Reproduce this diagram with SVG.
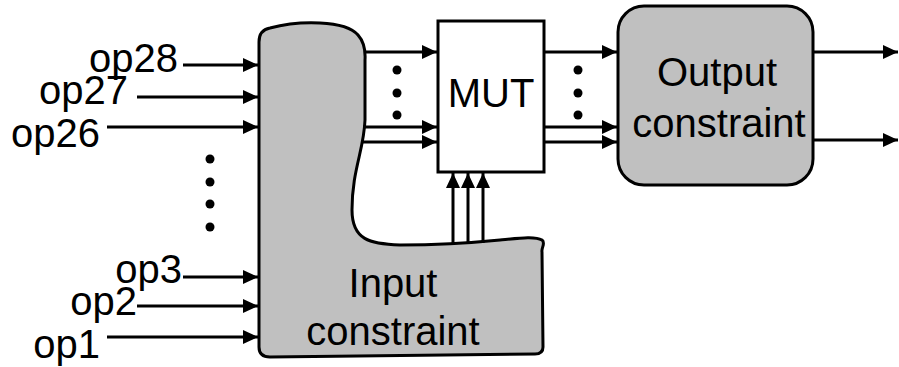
<svg xmlns="http://www.w3.org/2000/svg" width="899" height="367" viewBox="0 0 899 367">
<style>
.lbl{font-family:"Liberation Sans",Arial,sans-serif;font-size:40px;fill:#000}
.ln{stroke:#000;stroke-width:3;fill:none}
.blk{stroke:#000;stroke-width:3}
.dot{fill:#000}
</style>
<defs>
<marker id="ah" markerUnits="userSpaceOnUse" markerWidth="16" markerHeight="14" refX="15" refY="7" orient="auto">
<path d="M0,0 L15,7 L0,14 Z" fill="#000"/>
</marker>
</defs>
<rect width="899" height="367" fill="#fff"/>
<g id="input-constraint">
<path class="blk" fill="#c0c0c0" d="M259,42 Q259,30 270,28 C285,24 300,22 320,23 C340,24 352,28 358,35 Q366,44 365,60 L365,120 C364,150 352,170 352,210 C352,240 370,244 400,245 C440,245 470,243 500,240 C520,238 535,236 542,240 C546,243 541,248 542,252 L543,347 Q543,354 535,354 L270,357 Q259,357 259,347 Z"/>
<text class="lbl" x="393" y="297" text-anchor="middle">Input</text>
<text class="lbl" x="393" y="345" text-anchor="middle">constraint</text>
</g>
<g id="mut">
<rect class="blk" x="438" y="21" width="106" height="151" fill="#fff"/>
<text class="lbl" x="491" y="107" text-anchor="middle">MUT</text>
</g>
<g id="output-constraint">
<rect class="blk" x="618" y="6" width="195" height="179" rx="26" fill="#c0c0c0"/>
<text class="lbl" x="717" y="86" text-anchor="middle">Output</text>
<text class="lbl" x="719" y="137" text-anchor="middle">constraint</text>
</g>
<g id="labels">
<text class="lbl" x="178" y="72" text-anchor="end">op28</text>
<text class="lbl" x="128" y="104" text-anchor="end">op27</text>
<text class="lbl" x="100" y="147" text-anchor="end">op26</text>
<text class="lbl" x="182" y="283" text-anchor="end">op3</text>
<text class="lbl" x="137" y="315" text-anchor="end">op2</text>
<text class="lbl" x="100" y="358" text-anchor="end">op1</text>
</g>
<g id="dots">
<circle class="dot" cx="210" cy="159" r="4.5"/>
<circle class="dot" cx="210" cy="182" r="4.5"/>
<circle class="dot" cx="210" cy="204" r="4.5"/>
<circle class="dot" cx="210" cy="227" r="4.5"/>
<circle class="dot" cx="397" cy="70" r="4.5"/>
<circle class="dot" cx="397" cy="93" r="4.5"/>
<circle class="dot" cx="397" cy="115" r="4.5"/>
<circle class="dot" cx="578" cy="70" r="4.5"/>
<circle class="dot" cx="578" cy="93" r="4.5"/>
<circle class="dot" cx="578" cy="115" r="4.5"/>
</g>
<g id="connectors">
<line class="ln" x1="183" y1="65" x2="258" y2="65" marker-end="url(#ah)"/>
<line class="ln" x1="137" y1="97" x2="258" y2="97" marker-end="url(#ah)"/>
<line class="ln" x1="107" y1="127" x2="258" y2="127" marker-end="url(#ah)"/>
<line class="ln" x1="183" y1="277" x2="258" y2="277" marker-end="url(#ah)"/>
<line class="ln" x1="137" y1="306" x2="258" y2="306" marker-end="url(#ah)"/>
<line class="ln" x1="107" y1="337" x2="258" y2="337" marker-end="url(#ah)"/>
<line class="ln" x1="365" y1="52" x2="437" y2="52" marker-end="url(#ah)"/>
<line class="ln" x1="363" y1="127" x2="437" y2="127" marker-end="url(#ah)"/>
<line class="ln" x1="362" y1="142" x2="437" y2="142" marker-end="url(#ah)"/>
<line class="ln" x1="453" y1="245" x2="453" y2="173" marker-end="url(#ah)"/>
<line class="ln" x1="468" y1="244" x2="468" y2="173" marker-end="url(#ah)"/>
<line class="ln" x1="483" y1="243" x2="483" y2="173" marker-end="url(#ah)"/>
<line class="ln" x1="545" y1="52" x2="617" y2="52" marker-end="url(#ah)"/>
<line class="ln" x1="545" y1="127" x2="617" y2="127" marker-end="url(#ah)"/>
<line class="ln" x1="545" y1="142" x2="617" y2="142" marker-end="url(#ah)"/>
<line class="ln" x1="814" y1="52" x2="898" y2="52" marker-end="url(#ah)"/>
<line class="ln" x1="814" y1="140" x2="898" y2="140" marker-end="url(#ah)"/>
</g>
</svg>
